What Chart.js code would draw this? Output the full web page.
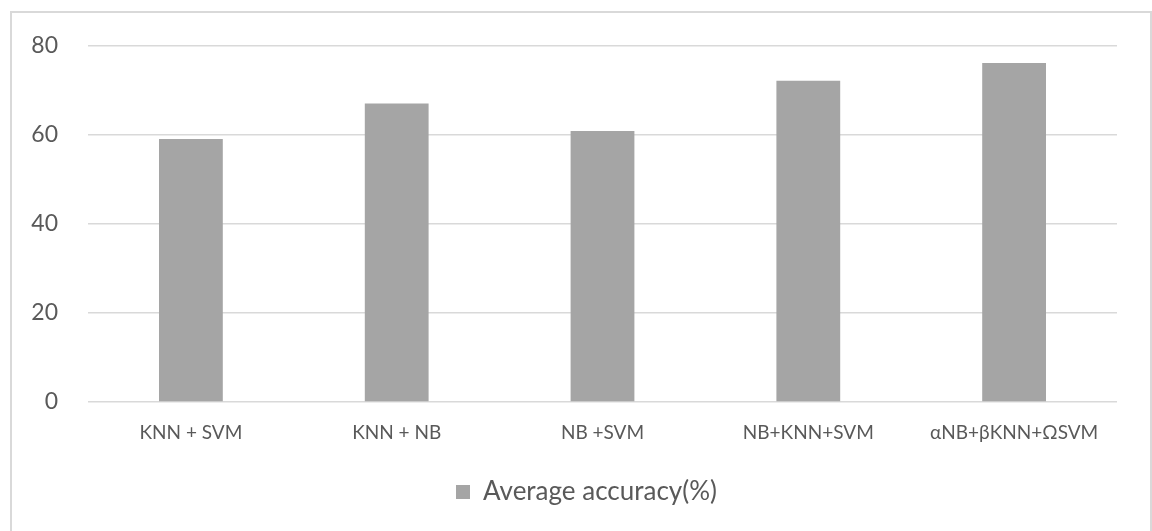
<!DOCTYPE html>
<html lang="en">

<head>
    <meta charset="UTF-8">
    <title>Average accuracy</title>
    <script src="https://cdn.jsdelivr.net/npm/chart.js"></script>
    <style>
        html, body { margin: 0; padding: 0; background: #ffffff; }
        #box { width: 1152px; height: 531px; position: relative; }
    </style>
</head>

<body>
    <div id="box">
        <canvas id="myChartCanvas" width="1152" height="531"></canvas>
    </div>
</body>

</html>

<script>
    // dados
    const categorias = ['KNN + SVM', 'KNN + NB', 'NB +SVM', 'NB+KNN+SVM', 'αNB+βKNN+ΩSVM'];
    const acuracia = [59.1, 67.1, 60.9, 72.2, 76.2];
    const ticksY = [0, 20, 40, 60, 80];

    const corTexto = '#595959';
    const corGrade = '#d9d9d9';

    // moldura cinza em volta do grafico
    const moldura = {
        id: 'moldura',
        beforeDraw(chart) {
            const ctx = chart.ctx;
            ctx.save();
            ctx.strokeStyle = corGrade;
            ctx.lineWidth = 2;
            ctx.beginPath();
            ctx.moveTo(11, 540);
            ctx.lineTo(11, 12);
            ctx.lineTo(1151, 12);
            ctx.lineTo(1151, 540);
            ctx.stroke();
            ctx.restore();
        }
    };

    // centraliza a legenda na moldura e nao so na area do grafico
    const legendaCentro = {
        id: 'legendaCentro',
        afterLayout(chart) {
            if (chart.legend) {
                chart.legend.left += 28;
                chart.legend.right += 28;
            }
        }
    };

    const dados = {
        labels: categorias,
        datasets: [{
            label: 'Average accuracy(%)',
            data: acuracia,
            backgroundColor: '#a5a5a5',
            borderWidth: 0,
            categoryPercentage: 1,
            barPercentage: 0.31
        }]
    };

    const config = {
        type: 'bar',
        data: dados,
        plugins: [moldura, legendaCentro],
        options: {
            responsive: false,
            animation: false,
            layout: {
                padding: { top: 46, right: 35, bottom: 16, left: 0 }
            },
            scales: {
                x: {
                    grid: { display: false, drawTicks: false },
                    border: { display: false },
                    ticks: {
                        color: corTexto,
                        padding: 19,
                        maxRotation: 0,
                        font: { family: 'Lato', size: 19 }
                    },
                    afterFit(scale) { scale.height = 60; }
                },
                y: {
                    min: 0,
                    max: 80,
                    afterBuildTicks(scale) {
                        scale.ticks = ticksY.map(v => ({ value: v }));
                    },
                    grid: { color: corGrade, lineWidth: 1.5, drawTicks: false },
                    border: { display: false },
                    ticks: {
                        color: corTexto,
                        padding: 30,
                        font: { family: 'Lato', size: 23 }
                    },
                    afterFit(scale) { scale.width = 88; }
                }
            },
            plugins: {
                title: { display: false },
                tooltip: { enabled: false },
                legend: {
                    display: true,
                    position: 'bottom',
                    labels: {
                        color: corTexto,
                        boxWidth: 14,
                        boxHeight: 14,
                        padding: 17,
                        font: { family: 'Lato', size: 26 }
                    }
                }
            }
        }
    };

    let myChart = new Chart(
        document.getElementById('myChartCanvas'),
        config
    );
</script>
